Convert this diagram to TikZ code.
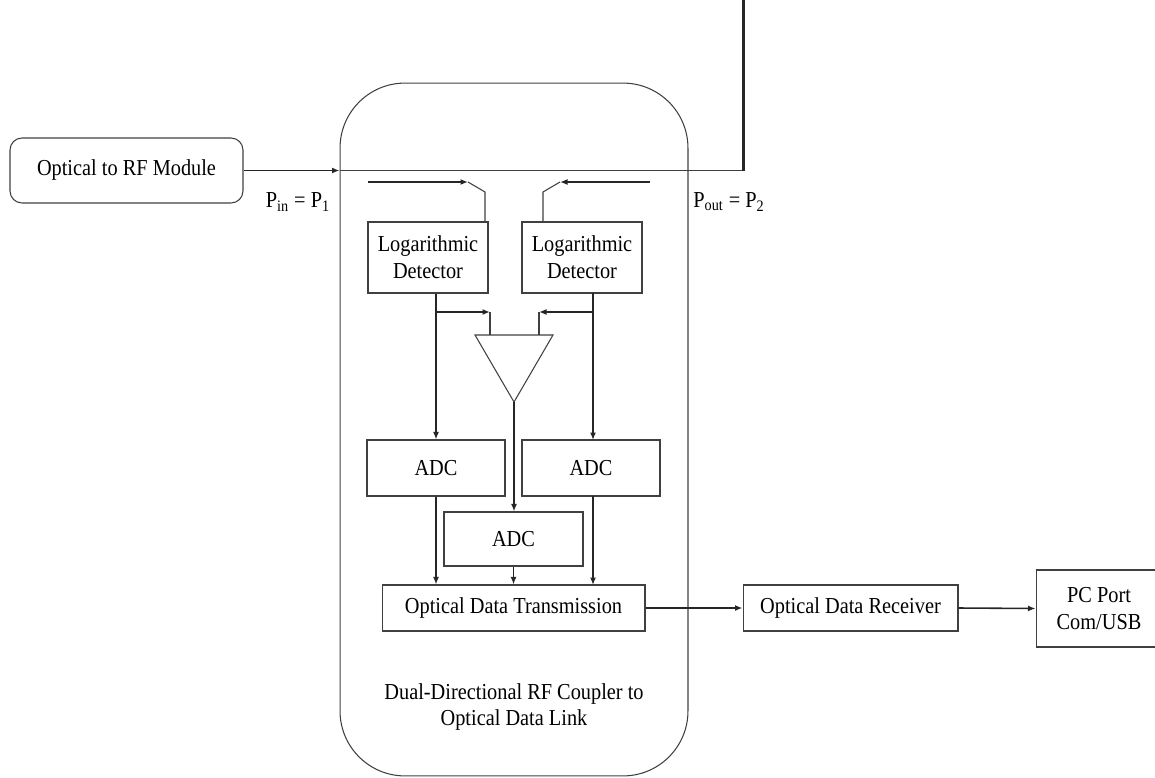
\documentclass[tikz,border=0pt]{standalone}
\usepackage{fontspec}
\setmainfont[FakeStretch=0.89]{Liberation Serif}
\usetikzlibrary{arrows.meta}

\tikzset{
    blk/.style={draw=black!75, line width=0.6pt, inner sep=0pt, align=center,
        font=\fontsize{13}{15.2}\selectfont},
    arr/.style={-{Latex[length=1.5mm,width=1.2mm]}, line width=0.9pt, draw=black!85},
    wire/.style={line width=0.6pt, draw=black!75}
}

\begin{document}
\begin{tikzpicture}[x=0.02cm,y=-0.02cm]
        \useasboundingbox (0,0) rectangle (1155,777);
        % outer coupler housing
        \node[blk, rounded corners=1.3cm, minimum width=6.96cm, minimum height=13.86cm] (coupler) at (514,429.5) {};
        \node[font=\fontsize{13}{15.2}\selectfont, align=center] (cplabel) at (514,707)
            {Dual-Directional RF Coupler to\\Optical Data Link};
        \node[blk, rounded corners=0.24cm, minimum width=4.66cm, minimum height=1.3cm] (rfmod) at (126.5,170.5) {Optical to RF Module};
        \node[blk, minimum width=2.4cm, minimum height=1.42cm] (logL) at (428,257.5) {Logarithmic\\Detector};
        \node[blk, minimum width=2.4cm, minimum height=1.42cm] (logR) at (582,257.5) {Logarithmic\\Detector};
        \node[blk, minimum width=2.76cm, minimum height=1.12cm] (adcL) at (436,468) {ADC};
        \node[blk, minimum width=2.76cm, minimum height=1.12cm] (adcR) at (591,468) {ADC};
        \node[blk, minimum width=2.78cm, minimum height=1.08cm] (adcM) at (513.5,539) {ADC};
        \node[blk, minimum width=5.26cm, minimum height=0.92cm] (odt) at (513.5,608) {Optical Data Transmission};
        \node[blk, minimum width=4.3cm, minimum height=0.92cm] (odr) at (850.5,608) {Optical Data Receiver};
        \node[blk, minimum width=2.52cm, minimum height=1.54cm] (pc) at (1099,608.5) {PC Port\\Com/USB};
        \node[font=\fontsize{13}{15.2}\selectfont] (pin) at (298,202) {P\textsubscript{in} = P\textsubscript{1}};
        \node[font=\fontsize{13}{15.2}\selectfont] (pout) at (729,202) {P\textsubscript{out} = P\textsubscript{2}};

        % RF through line and antenna
        \coordinate (rfin) at (coupler.west |- rfmod.east);
        \coordinate (ant) at (743,170.5);
        \coordinate (anttop) at (743,0);
        \draw[arr, line width=1.1pt] (rfmod.east) -- (rfin);
        \draw[wire] (rfin) -- (ant);
        \draw[line width=1.7pt, black!85] (ant) -- (anttop);

        % coupled ports
        \coordinate (fwdA) at (368,182);
        \coordinate (fwdB) at (468,182);
        \coordinate (fwdC) at (485,192);
        \coordinate (revA) at (650,182);
        \coordinate (revB) at (560,182);
        \coordinate (revC) at (543,192);
        \draw[arr] (fwdA) -- (fwdB);
        \draw[wire] (fwdB) -- (fwdC) -- (fwdC |- logL.north);
        \draw[arr] (revA) -- (revB);
        \draw[wire] (revB) -- (revC) -- (revC |- logR.north);

        % difference amplifier
        \coordinate (ampL) at (490,335);
        \coordinate (ampR) at (539,335);
        \coordinate (ampO) at (514,402);
        \coordinate (brL) at (490,312);
        \coordinate (brR) at (539,312);
        \draw[wire] (475,335) -- (553,335) -- (ampO) -- cycle;
        \draw[wire] (brL) -- (ampL);
        \draw[wire] (brR) -- (ampR);
        \draw[arr] (adcL |- brL) -- (brL);
        \draw[arr] (593,312) -- (brR);

        % detector outputs to converters
        \draw[arr] (adcL |- logL.south) -- (adcL.north);
        \draw[arr] (593,293) -- (593,440);
        \draw[arr] (ampO) -- (adcM.north -| ampO);
        \draw[arr] (adcL.south) -- (adcL.south |- odt.north);
        \draw[arr] (adcM.south) -- (adcM.south |- odt.north);
        \draw[arr] (593,496) -- (593,585);

        % data link
        \draw[arr] (odt.east) -- (odr.west);
        \draw[arr] (odr.east) -- (pc.west);
    \end{tikzpicture}
\end{document}
